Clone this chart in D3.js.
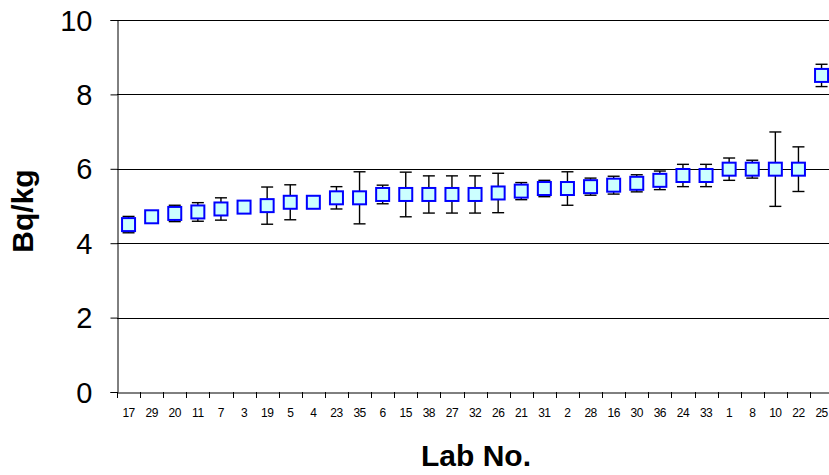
<!DOCTYPE html>
<html><head><meta charset="utf-8">
<script src="https://cdn.jsdelivr.net/npm/d3@7"></script>
<style>body{margin:0;background:#fff}svg{display:block}</style>
</head><body>
<svg id="c" width="829" height="475"></svg>
<script>
const labs = ["17","29","20","11","7","3","19","5","4","23","35","6","15","38","27","32","26","21","31","2","28","16","30","36","24","33","1","8","10","22","25"];
const values = [4.50,4.71,4.80,4.84,4.92,4.97,5.01,5.10,5.10,5.22,5.22,5.31,5.31,5.31,5.31,5.31,5.35,5.40,5.47,5.47,5.52,5.56,5.61,5.69,5.82,5.82,5.99,5.99,5.99,5.99,8.51];
const uncert = [0.22,0.05,0.22,0.25,0.30,0.05,0.50,0.47,0.05,0.30,0.70,0.25,0.60,0.50,0.50,0.50,0.53,0.23,0.22,0.45,0.23,0.24,0.23,0.25,0.30,0.30,0.30,0.24,1.00,0.60,0.30];
const yTicks = [0,2,4,6,8,10];

const svg = d3.select("#c");
const x = d3.scaleBand().domain(labs).range([117, 117 + 31*23.1]).padding(0);
const y = d3.scaleLinear().domain([0,10]).range([392, 20]);

// gridlines
svg.append("g").selectAll("line").data(yTicks.filter(d=>d>0)).join("line")
  .attr("x1",117).attr("x2",829).attr("y1",d=>Math.round(y(d))+0.5).attr("y2",d=>Math.round(y(d))+0.5)
  .attr("stroke","#000").attr("stroke-width",1);

// y axis
const ya = svg.append("g").attr("transform","translate(117.5,0)")
  .call(d3.axisLeft(y).tickValues(yTicks).tickSize(7).tickPadding(18).tickFormat(d3.format("d")));
ya.select(".domain").attr("stroke","#000");
ya.selectAll(".tick line").attr("stroke","#000");
ya.selectAll("text").attr("font-family","Liberation Sans, Arial, sans-serif").attr("font-size",29).attr("fill","#000").attr("dy","0.35em");

// x axis
const xa = svg.append("g").attr("transform","translate(0,392.5)")
  .call(d3.axisBottom(x).tickSize(0).tickPadding(16));
xa.select(".domain").attr("stroke","#000");
xa.selectAll("text").attr("font-family","Liberation Sans, Arial, sans-serif").attr("font-size",12).attr("fill","#000").attr("letter-spacing","-0.5px");
// boundary ticks
const bounds = labs.map(l=>x(l)).concat([x(labs[labs.length-1])+x.bandwidth()]);
svg.append("g").selectAll("line").data(bounds).join("line")
  .attr("x1",d=>Math.round(d)+0.5).attr("x2",d=>Math.round(d)+0.5).attr("y1",392).attr("y2",398)
  .attr("stroke","#000");

// error bars
const cx = (i)=>x(labs[i]) + x.bandwidth()/2;
const eb = svg.append("g").attr("stroke","#000").attr("stroke-width",1.4);
values.forEach((v,i)=>{
  const c = cx(i), hi = y(v+uncert[i]), lo = y(v-uncert[i]);
  eb.append("line").attr("x1",c).attr("x2",c).attr("y1",hi).attr("y2",lo);
  eb.append("line").attr("x1",c-6).attr("x2",c+6).attr("y1",hi).attr("y2",hi);
  eb.append("line").attr("x1",c-6).attr("x2",c+6).attr("y1",lo).attr("y2",lo);
});

// markers
svg.append("g").selectAll("rect").data(values).join("rect")
  .attr("x",(d,i)=>cx(i)-6.5).attr("y",d=>y(d)-6.5).attr("width",13).attr("height",13)
  .attr("fill","#ccffff").attr("stroke","#0000ff").attr("stroke-width",2);

// axis titles
svg.append("text").attr("transform","translate(33,211) rotate(-90)").attr("text-anchor","middle")
  .attr("font-family","Liberation Sans, Arial, sans-serif").attr("font-weight","bold").attr("font-size",30).text("Bq/kg");
svg.append("text").attr("x",476).attr("y",466).attr("text-anchor","middle")
  .attr("font-family","Liberation Sans, Arial, sans-serif").attr("font-weight","bold").attr("font-size",30).text("Lab No.");
</script>
</body></html>
